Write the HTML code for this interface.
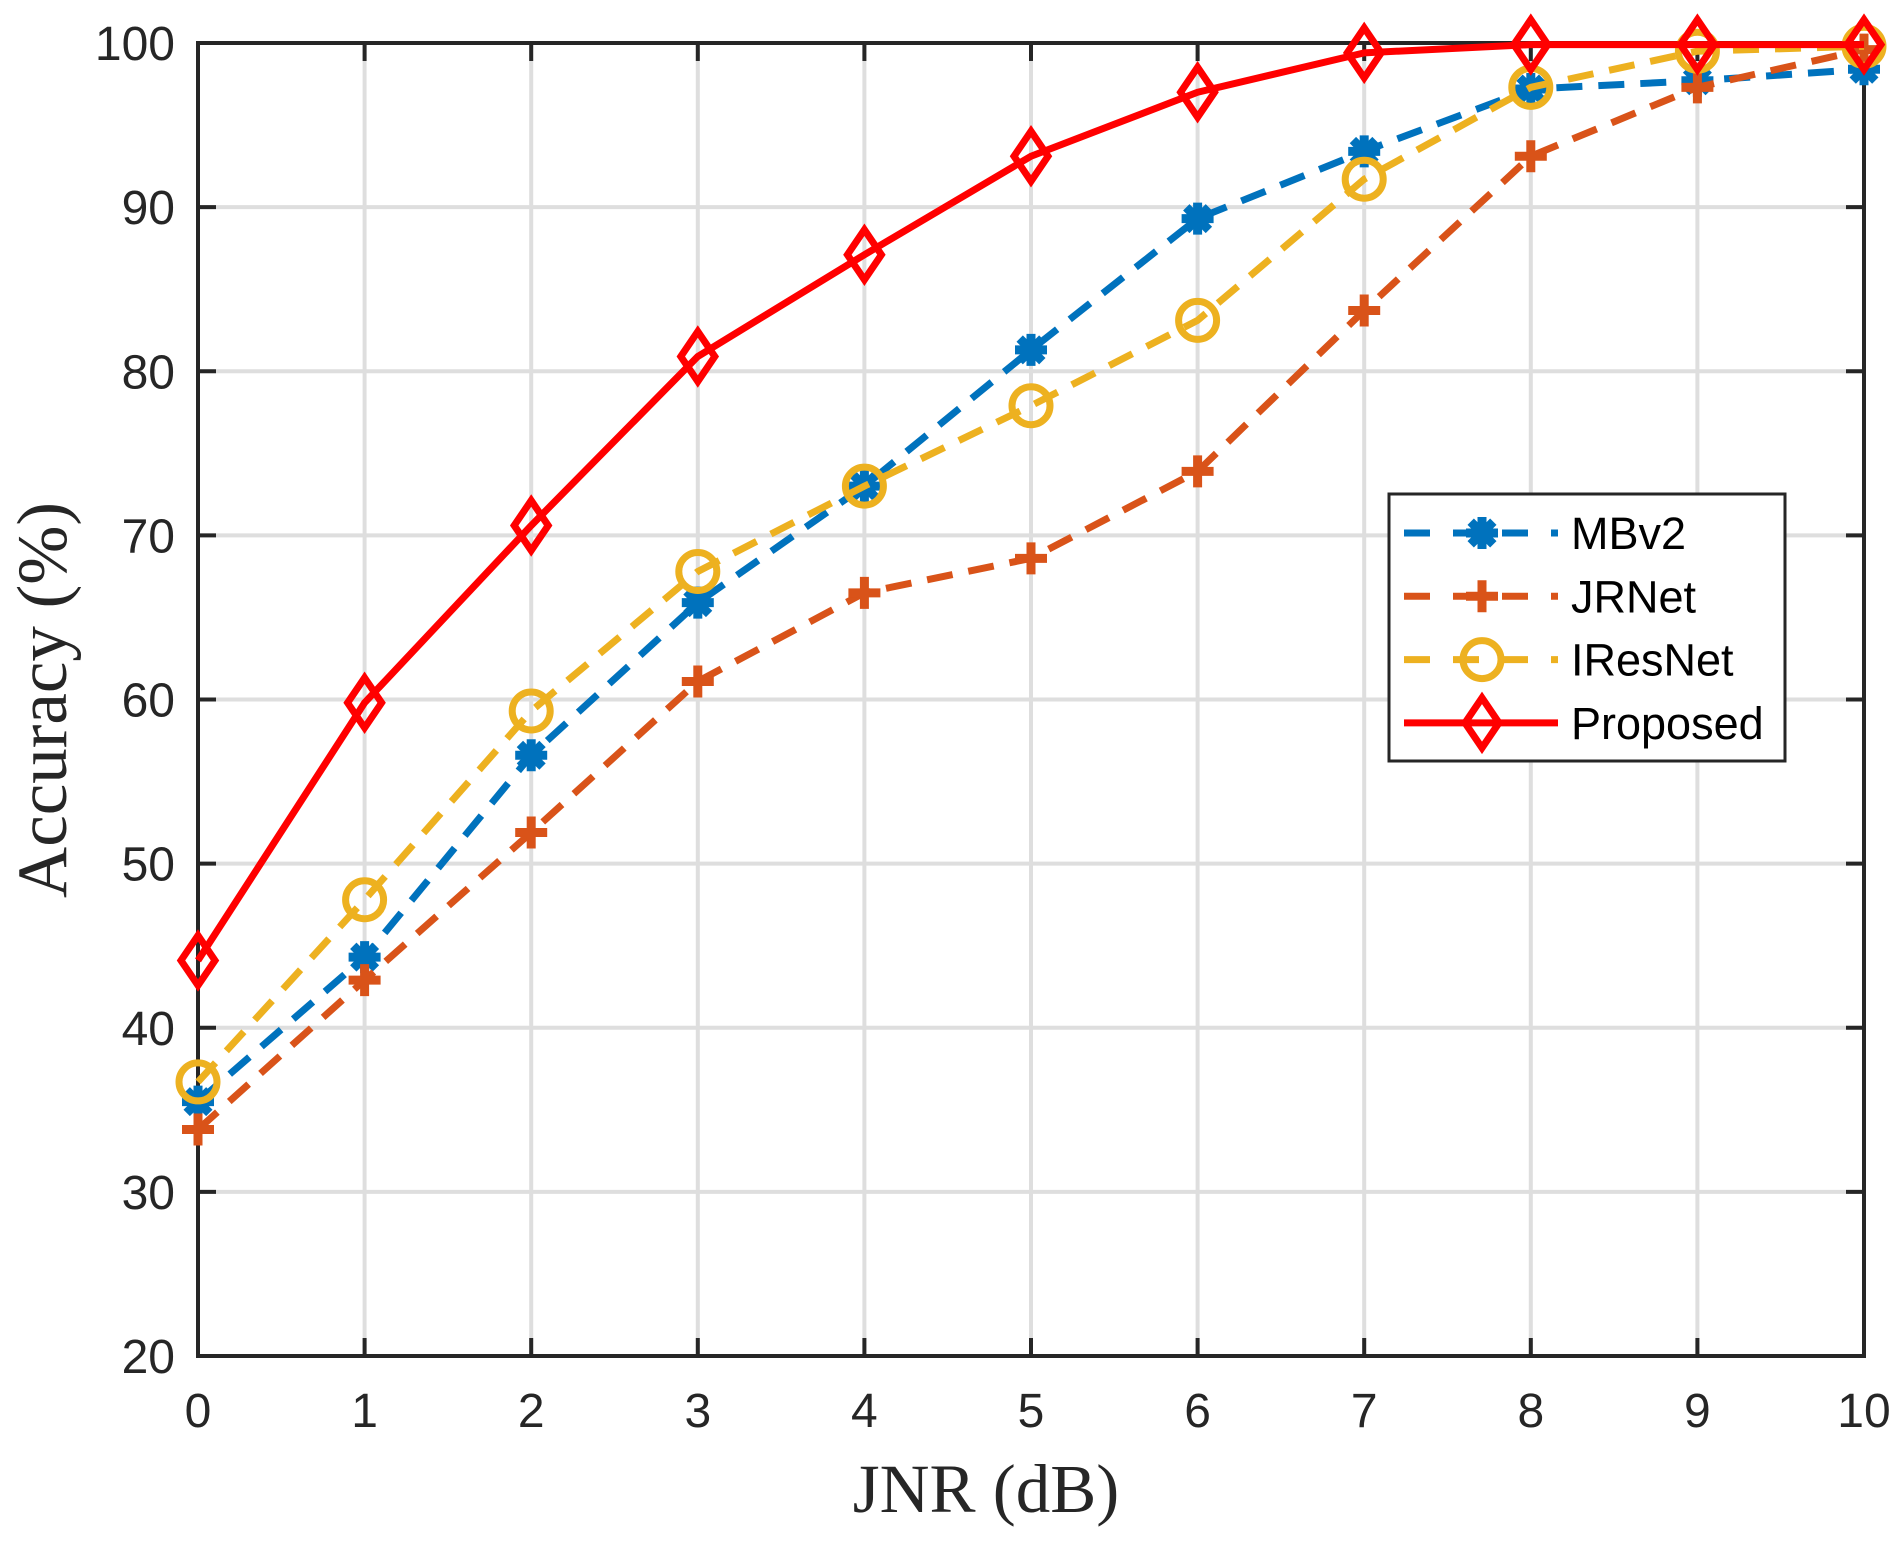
<!DOCTYPE html>
<html><head><meta charset="utf-8"><style>html,body{margin:0;padding:0;background:#fff}svg{display:block}</style></head>
<body>
<svg id="s" width="1899" height="1550" xmlns="http://www.w3.org/2000/svg">
<rect width="1899" height="1550" fill="#fff"/>
<g id="grid" stroke="#dedede" stroke-width="4"></g>
<g id="ticks" stroke="#262626" stroke-width="4"></g>
<rect x="198" y="43" width="1666" height="1313" fill="none" stroke="#262626" stroke-width="4"/>
<g id="lbl" font-family="Liberation Sans, Arial, sans-serif" font-size="48" fill="#262626"></g>
<g id="series"></g>
<text x="986" y="1512" font-family="Liberation Serif, serif" font-size="69" fill="#262626" text-anchor="middle">JNR (dB)</text>
<text transform="translate(66,700) rotate(-90)" font-family="Liberation Serif, serif" font-size="71" fill="#262626" text-anchor="middle">Accuracy (%)</text>
<g id="legend"></g>
</svg>
<script>
const NS="http://www.w3.org/2000/svg";
const X=i=>198+166.6*i, Y=v=>43+(100-v)*16.4125;
function el(p,t,a){const e=document.createElementNS(NS,t);Object.keys(a).forEach(k=>e.setAttribute(k,a[k]));p.appendChild(e);return e;}
const g=document.getElementById('grid'),tk=document.getElementById('ticks'),lb=document.getElementById('lbl');
for(let i=1;i<10;i++){el(g,'line',{x1:X(i),x2:X(i),y1:43,y2:1356});}
for(let v=30;v<100;v+=10){el(g,'line',{x1:198,x2:1864,y1:Y(v),y2:Y(v)});}
for(let i=0;i<=10;i++){el(tk,'line',{x1:X(i),x2:X(i),y1:1356,y2:1338});el(tk,'line',{x1:X(i),x2:X(i),y1:43,y2:61});
 const t=el(lb,'text',{x:X(i),y:1427,'text-anchor':'middle'});t.textContent=i;}
for(let v=20;v<=100;v+=10){el(tk,'line',{x1:198,x2:216,y1:Y(v),y2:Y(v)});el(tk,'line',{x1:1864,x2:1846,y1:Y(v),y2:Y(v)});
 const t=el(lb,'text',{x:175,y:Y(v)+17,'text-anchor':'end'});t.textContent=v;}
const S=[
 {n:'MBv2',c:'#0072BD',m:'ast',d:[35.5,44.3,56.6,65.9,73.0,81.3,89.3,93.4,97.2,97.7,98.4]},
 {n:'JRNet',c:'#D95319',m:'plus',d:[33.8,42.9,51.9,61.1,66.5,68.6,73.9,83.7,93.1,97.3,99.6]},
 {n:'IResNet',c:'#EDB120',m:'circ',d:[36.7,47.8,59.3,67.8,73.0,77.9,83.1,91.7,97.3,99.5,99.8]},
 {n:'Proposed',c:'#FF0000',m:'dia',d:[44.1,59.8,70.6,80.9,87.1,93.1,97.0,99.4,99.9,99.9,99.9]}];
function marker(p,m,x,y,c){
 if(m=='ast'){for(const a of [0,45,90,135]){const r=a*Math.PI/180,l=16;el(p,'line',{x1:x-l*Math.cos(r),y1:y-l*Math.sin(r),x2:x+l*Math.cos(r),y2:y+l*Math.sin(r),stroke:c,'stroke-width':9});}}
 else if(m=='plus'){el(p,'path',{d:`M${x-16} ${y}H${x+16}M${x} ${y-16}V${y+16}`,stroke:c,'stroke-width':9,fill:'none'});}
 else if(m=='circ'){el(p,'circle',{cx:x,cy:y,r:19,stroke:c,'stroke-width':7,fill:'none'});}
 else {el(p,'path',{d:`M${x} ${y-25}L${x+17} ${y}L${x} ${y+25}L${x-17} ${y}Z`,stroke:c,'stroke-width':7,fill:'none'});}
}
const sg=document.getElementById('series');
S.forEach(s=>{const pts=s.d.map((v,i)=>X(i)+','+Y(v)).join(' ');
 const a={points:pts,fill:'none',stroke:s.c,'stroke-width':7,'stroke-linejoin':'round'};
 if(s.m!='dia')a['stroke-dasharray']='26 16';
 el(sg,'polyline',a);s.d.forEach((v,i)=>marker(sg,s.m,X(i),Y(v),s.c));});
const lg=document.getElementById('legend');
el(lg,'rect',{x:1389,y:494,width:396,height:267,fill:'#fff',stroke:'#262626','stroke-width':3});
S.forEach((s,k)=>{const y=533+k*63.3;
 const a={x1:1404,x2:1558,y1:y,y2:y,stroke:s.c,'stroke-width':7};
 if(s.m!='dia')a['stroke-dasharray']='26 23';
 el(lg,'line',a);marker(lg,s.m,1482,y,s.c);
 const t=el(lg,'text',{x:1571,y:y+16,'font-family':'Liberation Sans, Arial, sans-serif','font-size':45,fill:'#000'});t.textContent=s.n;});
</script>
</body></html>
